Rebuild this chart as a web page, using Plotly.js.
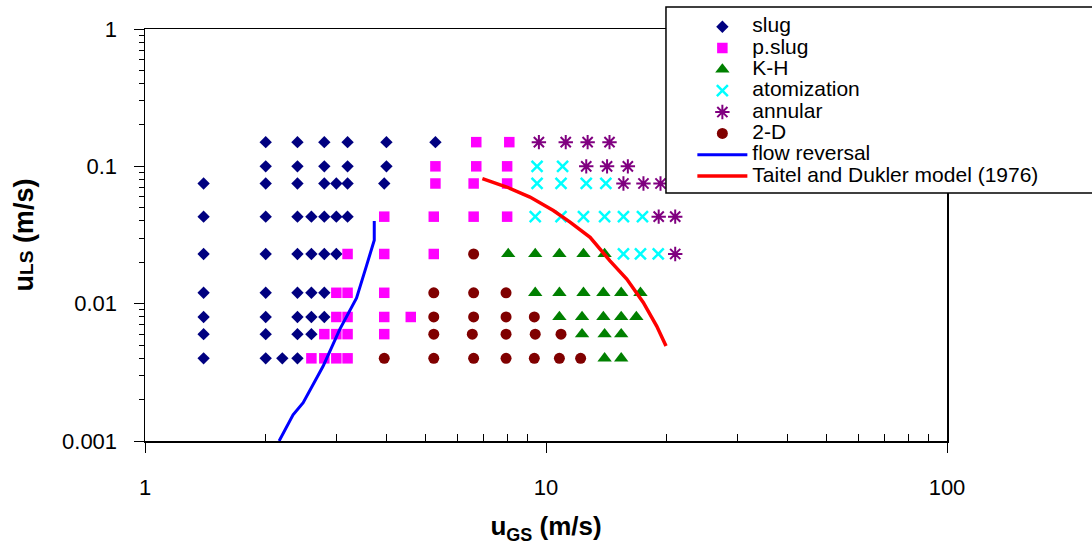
<!DOCTYPE html>
<html>
<head>
<meta charset="utf-8">
<script src="https://cdn.plot.ly/plotly-3.0.1.min.js"></script>
<style>html,body{margin:0;padding:0;background:#fff;}#chart{width:1092px;height:553px;}</style>
</head>
<body>
<div id="chart"></div>
<script>
// ---- data ----
const slugX = [2.0,2.4,2.8,3.2,4.0,5.3, 2.0,2.4,2.8,3.2,4.0, 1.4,2.0,2.4,2.8,3.0,3.2,3.95, 1.4,2.0,2.4,2.6,2.8,3.0,3.2, 1.4,2.0,2.4,2.6,2.8,3.0, 1.4,2.0,2.4,2.6,2.8, 1.4,2.0,2.4,2.6,2.8, 1.4,2.0,2.4,2.6, 1.4,2.0,2.2,2.4];
const slugY = [0.15,0.15,0.15,0.15,0.15,0.15, 0.1,0.1,0.1,0.1,0.1, 0.075,0.075,0.075,0.075,0.075,0.075,0.075, 0.043,0.043,0.043,0.043,0.043,0.043,0.043, 0.023,0.023,0.023,0.023,0.023,0.023, 0.012,0.012,0.012,0.012,0.012, 0.008,0.008,0.008,0.008,0.008, 0.006,0.006,0.006,0.006, 0.004,0.004,0.004,0.004];

const pslugX = [6.7,8.1, 5.3,6.7,8.0, 5.3,6.6,8.0, 3.95,5.25,6.6,8.0, 3.2,3.95,5.25, 3.0,3.2,3.95, 3.0,3.2,3.95,4.6, 2.8,3.0,3.2,3.95, 2.6,2.8,3.0,3.2];
const pslugY = [0.15,0.15, 0.1,0.1,0.1, 0.075,0.075,0.075, 0.043,0.043,0.043,0.043, 0.023,0.023,0.023, 0.012,0.012,0.012, 0.008,0.008,0.008,0.008, 0.006,0.006,0.006,0.006, 0.004,0.004,0.004,0.004];

const khX = [8.05,9.4,10.8,12.4,14.0, 9.4,10.8,12.4,13.9,15.4,17.2, 10.8,12.3,13.9,15.4,16.8, 12.3,14.0,15.4, 14.0,15.4];
const khY = [0.023,0.023,0.023,0.023,0.023, 0.012,0.012,0.012,0.012,0.012,0.012, 0.008,0.008,0.008,0.008,0.008, 0.006,0.006,0.006, 0.004,0.004];

const atomX = [9.5,11.0, 9.5,10.9,12.6,14.1, 9.4,10.9,12.4,14.0,15.6,17.4, 15.6,17.2,19.05];
const atomY = [0.1,0.1, 0.075,0.075,0.075,0.075, 0.043,0.043,0.043,0.043,0.043,0.043, 0.023,0.023,0.023];

const annX = [9.6,11.2,12.7,14.4, 12.6,14.2,16.0, 15.6,17.5,19.3, 19.1,21.0, 21.0];
const annY = [0.15,0.15,0.15,0.15, 0.1,0.1,0.1, 0.075,0.075,0.075, 0.043,0.043, 0.023];

const twoDX = [6.6, 5.25,6.6,7.95, 5.25,6.6,7.95,9.35, 5.25,6.55,7.95,9.4,10.9, 3.95,5.25,6.6,7.95,9.35,10.8,12.2];
const twoDY = [0.023, 0.012,0.012,0.012, 0.008,0.008,0.008,0.008, 0.006,0.006,0.006,0.006,0.006, 0.004,0.004,0.004,0.004,0.004,0.004,0.004];

const revX = [2.16,2.34,2.48,2.78,3.06,3.37,3.57,3.73,3.73];
const revY = [0.001,0.00155,0.0019,0.0035,0.0065,0.011,0.019,0.029,0.040];

const tdX = [6.94,7.98,9.12,10.43,11.48,12.88,14.44,15.9,17.48,18.88,19.92];
const tdY = [0.0813,0.0707,0.0597,0.0477,0.0392,0.0304,0.0205,0.0151,0.0102,0.00687,0.00491];

const xTickVals = [1,10,100];
const xTickText = ['1','10','100'];
const yTickVals = [0.001,0.01,0.1,1];
const yTickText = ['0.001','0.01','0.1','1'];

function minorVals(lo, hi){
  const v=[];
  for(let d=lo; d<hi; d++){ for(let k=2;k<=9;k++){ v.push(k*Math.pow(10,d)); } }
  return v;
}

const FONT = 'Liberation Sans, Arial, sans-serif';
const nm = s => '<span style="font-size:21px">' + s + '</span>';

const traces = [
  {x: slugX, y: slugY, name: nm('slug'), mode:'markers', type:'scatter',
   marker:{symbol:'diamond', size:9.5, color:'#000080'}},
  {x: pslugX, y: pslugY, name: nm('p.slug'), mode:'markers', type:'scatter',
   marker:{symbol:'square', size:10.5, color:'#FF00FF'}},
  {x: khX, y: khY, name: nm('K-H'), mode:'markers', type:'scatter',
   marker:{symbol:'triangle-up', size:12.5, color:'#008000'}},
  {x: atomX, y: atomY, name: nm('atomization'), mode:'markers', type:'scatter',
   marker:{symbol:'x-thin-open', size:11, color:'#00FFFF', line:{width:2.5, color:'#00FFFF'}}},
  {x: annX, y: annY, name: nm('annular'), mode:'markers', type:'scatter',
   marker:{symbol:'asterisk-open', size:12, color:'#800080', line:{width:2, color:'#800080'}}},
  {x: twoDX, y: twoDY, name: nm('2-D'), mode:'markers', type:'scatter',
   marker:{symbol:'circle', size:11, color:'#800000'}},
  {x: revX, y: revY, name: nm('flow reversal'), mode:'lines', type:'scatter',
   line:{color:'#0000FF', width:3}},
  {x: tdX, y: tdY, name: nm('Taitel and Dukler model (1976)'), mode:'lines', type:'scatter',
   line:{color:'#FF0000', width:3.5}}
];

const layout = {
  width:1092, height:553,
  margin:{l:145, r:145, t:29, b:112, autoexpand:false},
  paper_bgcolor:'#fff', plot_bgcolor:'#fff',
  font:{family:FONT, color:'#000', size:21},
  showlegend:true,
  xaxis:{
    type:'log', range:[0,2], showgrid:false, zeroline:false,
    showline:true, linecolor:'#000', linewidth:1.5, mirror:true,
    tickmode:'array', tickvals:xTickVals, ticktext:xTickText,
    ticks:'outside', ticklen:10, tickcolor:'#000', tickwidth:1,
    ticklabelstandoff:16,
    tickfont:{family:FONT, size:22, color:'#000'},
    minor:{tickmode:'array', tickvals:minorVals(0,2), ticks:'inside', ticklen:7, tickcolor:'#000', tickwidth:1, showgrid:false},
    title:{text:'<b>u<sub><span style="font-size:18px">GS</span></sub> (m/s)</b>', font:{family:FONT, size:26, color:'#000'}, standoff:18}
  },
  yaxis:{
    type:'log', range:[-3,0], showgrid:false, zeroline:false,
    showline:true, linecolor:'#000', linewidth:1.5, mirror:true,
    tickmode:'array', tickvals:yTickVals, ticktext:yTickText,
    ticks:'outside', ticklen:10, tickcolor:'#000', tickwidth:1,
    ticklabelstandoff:12,
    tickfont:{family:FONT, size:22, color:'#000'},
    minor:{tickmode:'array', tickvals:minorVals(-3,0), ticks:'outside', ticklen:5, tickcolor:'#000', tickwidth:1, showgrid:false},
    title:{text:'<b>u<span style="font-size:19px">LS</span> (m/s)</b>', font:{family:FONT, size:27, color:'#000'}, standoff:20}
  },
  legend:{
    x:0.6825, xanchor:'left', y:1.0435, yanchor:'top',
    bgcolor:'rgba(0,0,0,0)', borderwidth:0,
    font:{family:FONT, size:14.1, color:'#000'},
    itemwidth:50, tracegroupgap:0
  },
  shapes:[
    {type:'rect', xref:'paper', yref:'paper', x0:0.6496, x1:1.25, y0:0.6019, y1:1.0534,
     line:{color:'#000', width:1.5}, fillcolor:'#fff', layer:'above'}
  ]
};

Plotly.newPlot('chart', traces, layout, {displayModeBar:false, staticPlot:true});
</script>
</body>
</html>
